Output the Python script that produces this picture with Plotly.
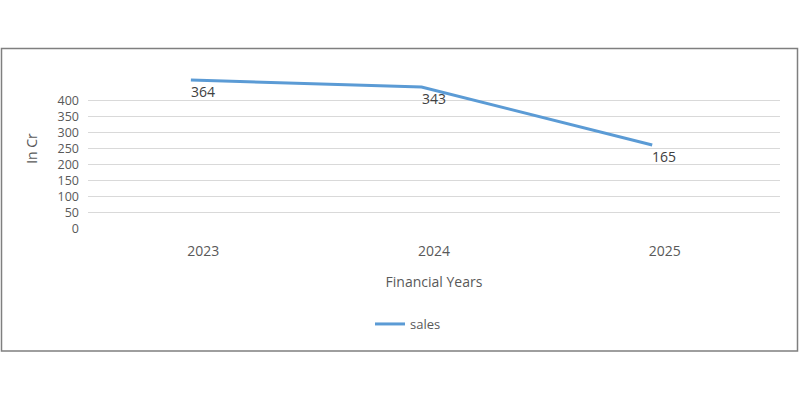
import plotly.graph_objects as go

years = ["2023", "2024", "2025"]
sales = [364, 343, 165]
y_ticks = [0, 50, 100, 150, 200, 250, 300, 350, 400]

FONT = "Open Sans"
GRAY = "#595959"

fig = go.Figure()

# invisible trace to anchor the category axis that shows the tick labels
fig.add_trace(go.Scatter(
    x=years, y=sales, mode="lines", line=dict(width=0, color="rgba(0,0,0,0)"),
    showlegend=False, hoverinfo="skip", xaxis="x", yaxis="y",
))

fig.add_trace(go.Scatter(
    x=years, y=sales, name="sales", mode="lines",
    line=dict(color="#5b9bd5", width=3),
    xaxis="x2", yaxis="y2",
))

# data labels: category index on the overlay axis, value on its y scale
annotations = [
    dict(x=i, y=v, xref="x2", yref="y2", text=str(v), showarrow=False,
         xanchor="left", yanchor="top", xshift=-2, yshift=0,
         font=dict(family=FONT, size=14, color="#404040"))
    for i, v in enumerate(sales)
]

L, R, T, B = 88, 20, 68, 171
W, H = 800, 400
pw, ph = W - L - R, H - T - B

def px_x(p):
    return (p - L) / pw

def px_y(p):
    return (H - B - p) / ph

fig.update_layout(
    width=W, height=H,
    margin=dict(l=L, r=R, t=T, b=B),
    paper_bgcolor="white", plot_bgcolor="white",
    font=dict(family=FONT, size=14, color=GRAY),
    xaxis=dict(
        type="category", categoryarray=years, range=[-0.5, 2.5],
        showgrid=False, zeroline=False, showline=False, ticks="",
        tickfont=dict(size=14, color=GRAY), ticklabelstandoff=12,
        title=dict(text="Financial Years", font=dict(size=14, color=GRAY), standoff=18),
        fixedrange=True,
    ),
    yaxis=dict(
        range=[0, 500], tickvals=y_ticks, showgrid=True, gridcolor="#d9d9d9",
        gridwidth=1, zeroline=False, showline=False, ticks="",
        tickfont=dict(size=12.5, color=GRAY), ticklabelstandoff=8,
        title=dict(text="In Cr", font=dict(size=14, color=GRAY), standoff=16),
        fixedrange=True,
    ),
    xaxis2=dict(
        type="category", categoryarray=years, range=[-0.446, 2.554],
        overlaying="x", visible=False,
    ),
    yaxis2=dict(range=[-92, 401], overlaying="y", visible=False),
    showlegend=True,
    legend=dict(
        orientation="h", x=px_x(370), xanchor="left", y=px_y(309), yanchor="top",
        font=dict(size=13, color=GRAY), bgcolor="rgba(0,0,0,0)",
    ),
    annotations=annotations,
    shapes=[dict(
        type="rect", xref="paper", yref="paper",
        x0=px_x(1.5), x1=px_x(797.5), y0=px_y(351), y1=px_y(48.5),
        line=dict(color="#7f7f7f", width=1.5), layer="below",
    )],
)

fig.write_html("out.html")
